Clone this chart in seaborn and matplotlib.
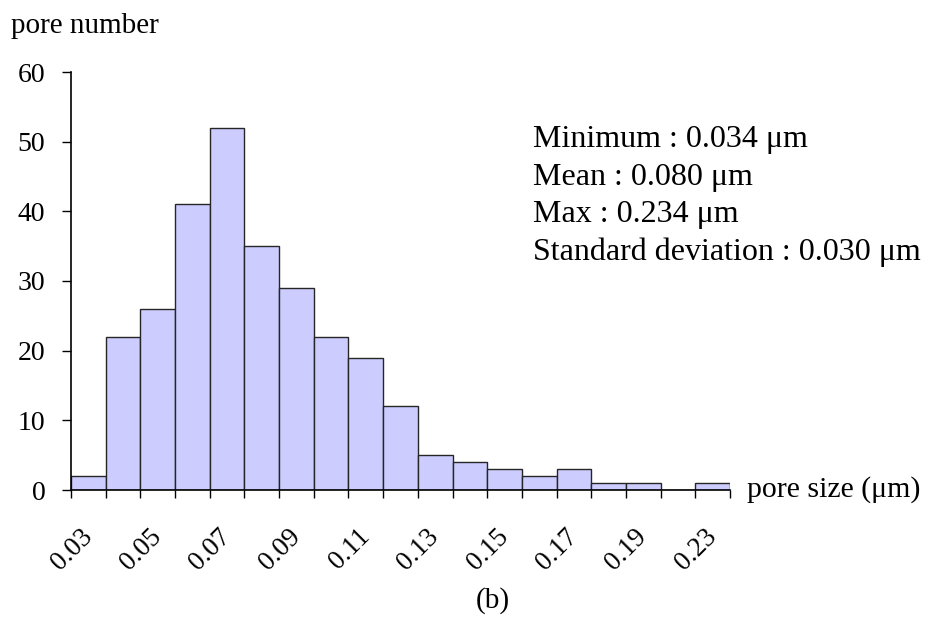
import matplotlib
matplotlib.use("Agg")
import matplotlib.pyplot as plt
import matplotlib.transforms as mtransforms
import seaborn as sns
import pandas as pd
import numpy as np

# Data
size_bins = ["0.03", "0.04", "0.05", "0.06", "0.07", "0.08", "0.09", "0.10", "0.11",
             "0.12", "0.13", "0.14", "0.15", "0.16", "0.17", "0.18", "0.19", "0.21", "0.23"]
pore_counts = [2, 22, 26, 41, 52, 35, 29, 22, 19, 12, 5, 4, 3, 2, 3, 1, 1, 0, 1]
y_ticks = [0, 10, 20, 30, 40, 50, 60]
stats_lines = ["Minimum : 0.034 \u03bcm", "Mean : 0.080 \u03bcm", "Max : 0.234 \u03bcm",
               "Standard deviation : 0.030 \u03bcm"]

sns.set_style("white")
plt.rcParams['font.family'] = ['Liberation Serif', 'DejaVu Serif']
plt.rcParams['text.color'] = 'black'
plt.rcParams['xtick.color'] = 'black'
plt.rcParams['ytick.color'] = 'black'

W, H = 925, 619
fig = plt.figure(figsize=(W / 100, H / 100), dpi=100)
ax = fig.add_axes([71 / W, 1 - 490 / H, (730 - 71) / W, (490 - 72) / H])

df = pd.DataFrame({"size": size_bins, "count": pore_counts})
sns.barplot(data=df, x="size", y="count", order=size_bins, color="#CCCCFF",
            saturation=1, width=1.0, edgecolor="#262626", linewidth=1.0, ax=ax)

n = len(size_bins)
ax.set_xlim(-0.5, n - 0.5)
ax.set_ylim(0, 60)
ax.set_yticks(y_ticks)
ax.set_yticklabels([str(v) for v in y_ticks], fontsize=20)
ax.set_xlabel("")
ax.set_ylabel("")

# boundary ticks (major, unlabeled) and labels at bar centers (minor)
ax.set_xticks(np.arange(-0.5, n, 1.0))
ax.set_xticklabels([])
lab_idx = list(range(0, n, 2))
ax.set_xticks(lab_idx, minor=True)
ax.set_xticklabels([size_bins[i] for i in lab_idx], minor=True,
                   rotation=45, ha="right", va="center", rotation_mode="anchor", fontsize=19.5)
shift = mtransforms.ScaledTranslation(-9 / 100, 0, fig.dpi_scale_trans)
for lbl in ax.get_xticklabels(minor=True):
    lbl.set_transform(lbl.get_transform() + shift)
ax.tick_params(axis="x", which="major", direction="out", length=6, width=1, bottom=True)
ax.tick_params(axis="x", which="minor", length=0, pad=31, bottom=True)
ax.tick_params(axis="y", direction="out", length=6.5, width=1, pad=12, left=True)

for s in ["top", "right"]:
    ax.spines[s].set_visible(False)
for s in ["left", "bottom"]:
    ax.spines[s].set_color("black")
    ax.spines[s].set_linewidth(1.2)

fig.text(11 / W, 1 - 33 / H, "pore number", fontsize=21, ha="left", va="baseline")
fig.text(747 / W, 1 - 490 / H, "pore size (\u03bcm)", fontsize=21.5, ha="left", va="center")
fig.text(493 / W, 1 - 601 / H, "(b)", fontsize=21, ha="center", va="center")

for k, line in enumerate(stats_lines):
    fig.text(533 / W, 1 - (147 + 37.7 * k) / H, line, fontsize=23, ha="left", va="baseline")

fig.savefig("out.png", dpi=100)
